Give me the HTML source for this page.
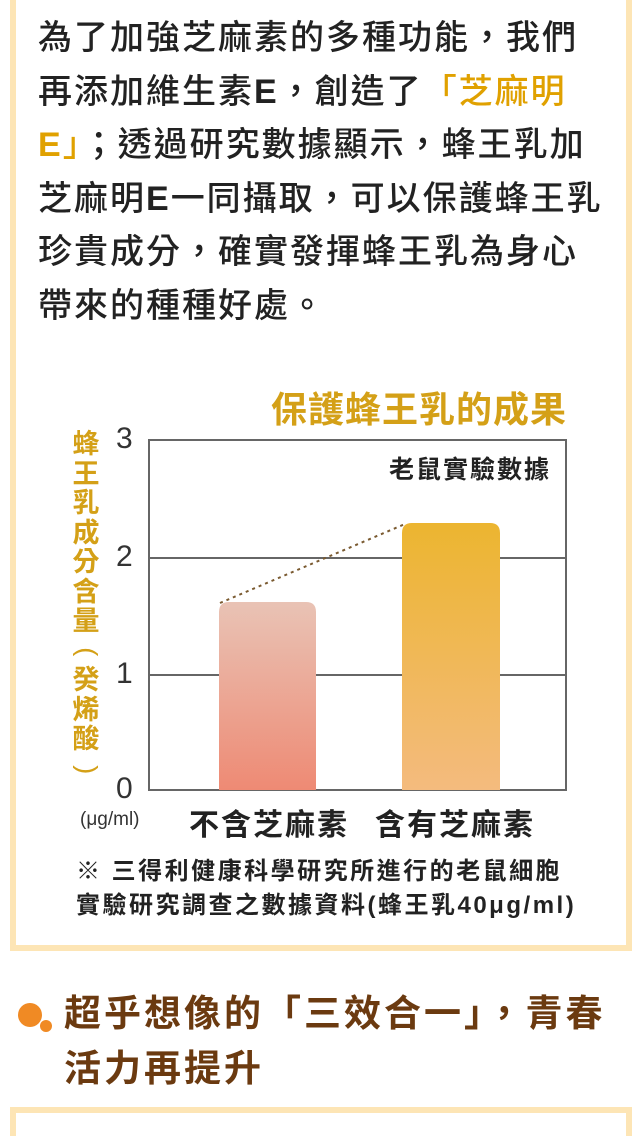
<!DOCTYPE html>
<html><head><meta charset="utf-8"><style>
html,body{margin:0;width:640px;height:1136px;overflow:hidden}
body{background:#fff;position:relative;font-family:"Liberation Sans","Noto Sans CJK TC",sans-serif}
.box{position:absolute;left:10px;top:-10px;width:610px;height:955px;border:6px solid #fde5b5;border-top:none}
.p{position:absolute;left:38px;top:12px;font-size:34px;line-height:53.5px;color:#222;letter-spacing:2px;white-space:nowrap;font-weight:500}
.hl{color:#e0a100}
.abs{position:absolute;white-space:nowrap}
.box2{position:absolute;left:10px;top:1107px;width:610px;height:60px;border:6px solid #fde5b5}
</style></head><body>
<div class="box"></div>
<div class="p">為了加強芝麻素的多種功能，我們<br>再添加維生素<b>E</b>，創造了<span class="hl">「芝麻明</span><br><span class="hl"><b>E</b>」</span>；透過研究數據顯示，蜂王乳加<br>芝麻明<b>E</b>一同攝取，可以保護蜂王乳<br>珍貴成分，確實發揮蜂王乳為身心<br>帶來的種種好處。</div>
<div class="abs" style="left:271px;top:381px;font-size:36px;color:#d4a017;font-weight:bold;letter-spacing:1px">保護蜂王乳的成果</div>
<svg class="abs" style="left:0;top:0" width="640" height="1136">
<defs>
<linearGradient id="g1" x1="0" y1="0" x2="0" y2="1"><stop offset="0" stop-color="#e9c3b5"/><stop offset="1" stop-color="#ee8a74"/></linearGradient>
<linearGradient id="g2" x1="0" y1="0" x2="0" y2="1"><stop offset="0" stop-color="#ecb530"/><stop offset="1" stop-color="#f4bb7e"/></linearGradient>
</defs>
<rect x="149" y="440" width="417" height="350" fill="#fff" stroke="#666" stroke-width="2"/>
<line x1="149" y1="558" x2="566" y2="558" stroke="#666" stroke-width="2"/>
<line x1="149" y1="675" x2="566" y2="675" stroke="#666" stroke-width="2"/>
<path d="M219 790V612q0-10 10-10h77q10 0 10 10V790z" fill="url(#g1)"/>
<path d="M402 790V533q0-10 10-10h78q10 0 10 10V790z" fill="url(#g2)"/>
<line x1="220" y1="603" x2="405" y2="524" stroke="#7a5a30" stroke-width="2" stroke-dasharray="3,4"/>
<circle cx="30" cy="1015" r="12" fill="#f08a24"/><circle cx="46" cy="1026" r="6" fill="#f08a24"/>
</svg>
<div class="abs" style="left:116px;top:422px;font-size:30px;color:#333">3</div>
<div class="abs" style="left:116px;top:540px;font-size:30px;color:#333">2</div>
<div class="abs" style="left:116px;top:657px;font-size:30px;color:#333">1</div>
<div class="abs" style="left:116px;top:772px;font-size:30px;color:#333">0</div>
<div class="abs" style="left:71px;top:430px;width:30px;font-size:27px;line-height:29.5px;color:#d4a017;white-space:normal;text-align:center;font-weight:bold">蜂王乳成分含量<span style="display:inline-block;transform:rotate(90deg);font-weight:normal">(</span>癸烯酸<span style="display:inline-block;transform:rotate(90deg);font-weight:normal">)</span></div>
<div class="abs" style="left:389px;top:450px;font-size:25px;color:#222;font-weight:bold;letter-spacing:2px">老鼠實驗數據</div>
<div class="abs" style="left:80px;top:809px;font-size:19px;color:#333">(μg/ml)</div>
<div class="abs" style="left:189px;top:800px;font-size:30px;color:#222;font-weight:bold;letter-spacing:2px">不含芝麻素</div>
<div class="abs" style="left:375px;top:800px;font-size:30px;color:#222;font-weight:bold;letter-spacing:2px">含有芝麻素</div>
<div class="abs" style="left:76px;top:855px;font-size:24px;color:#222;line-height:34px;font-weight:bold;letter-spacing:2.5px">※ 三得利健康科學研究所進行的老鼠細胞<br>實驗研究調查之數據資料(蜂王乳40μg/ml)</div>
<div class="abs" style="left:64px;top:986px;font-size:37px;line-height:55px;color:#6b3a10;font-weight:bold;letter-spacing:3px">超乎想像的「三效合一」，青春<br>活力再提升</div>
<div class="box2"></div>
</body></html>
